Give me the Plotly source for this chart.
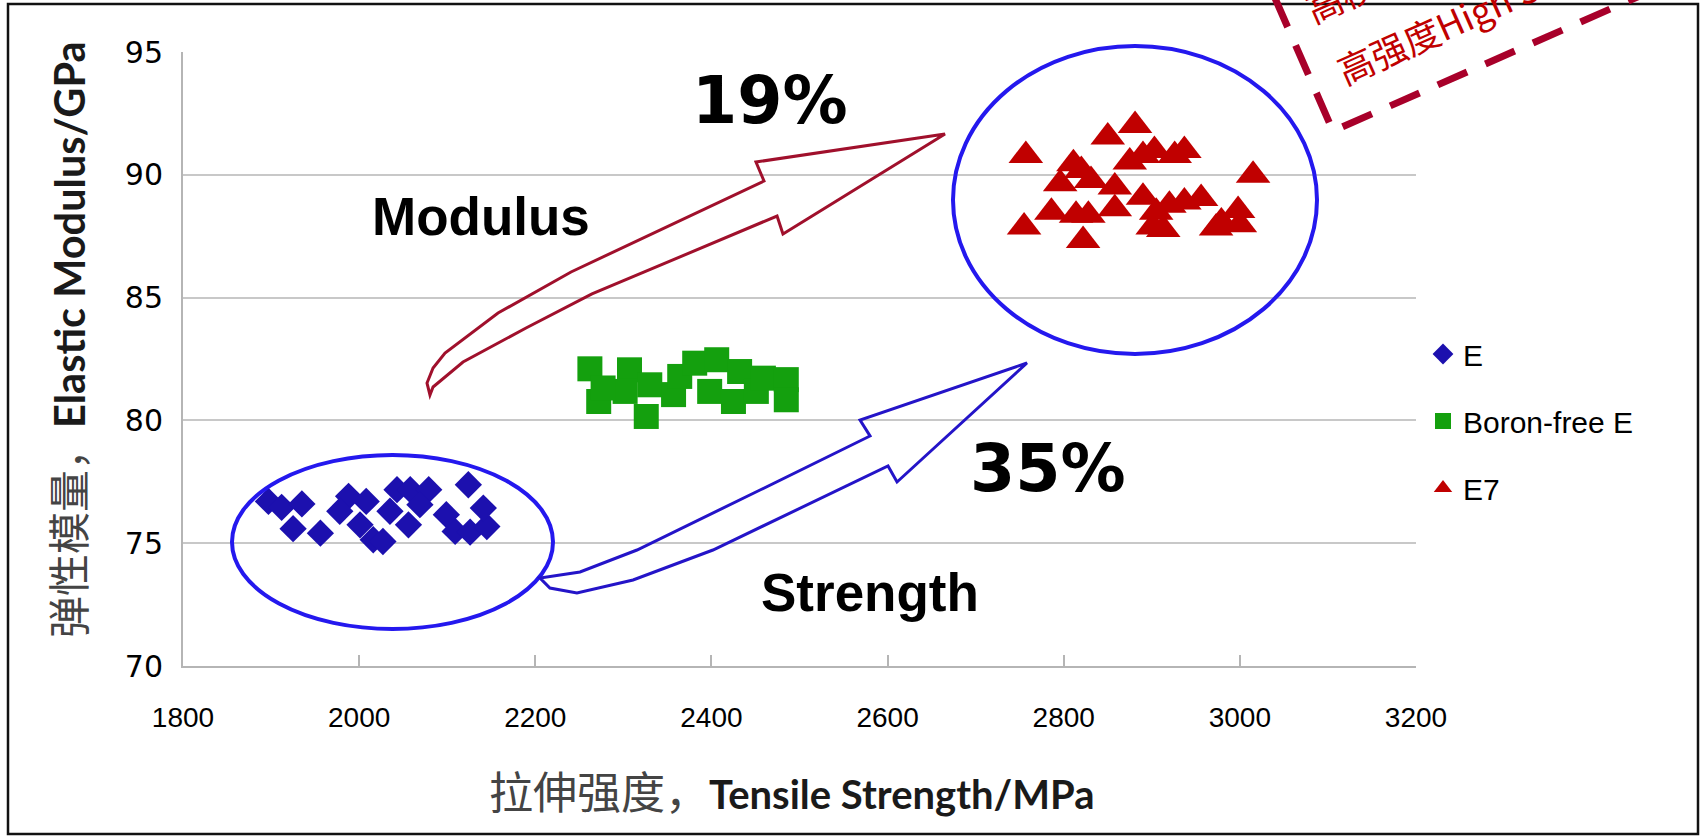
import plotly.graph_objects as go

# ---------------- data ----------------
x_ticks = [1800, 2000, 2200, 2400, 2600, 2800, 3000, 3200]
y_ticks = [70, 75, 80, 85, 90, 95]

series_names = ["E", "Boron-free E", "E7"]

e_x = [1897, 1912, 1935, 1925, 1956, 1988, 1978, 2016, 2027, 2043, 2058, 2079,
       2124, 2109, 2126, 2145, 2099, 2001, 2056, 2141, 2035, 2008, 2069]
e_y = [76.70, 76.46, 76.60, 75.59, 75.41, 76.91, 76.30, 75.14, 75.07, 77.18, 77.18, 77.18,
       77.38, 75.48, 75.45, 75.68, 76.16, 75.75, 75.75, 76.43, 76.30, 76.70, 76.57]

bfe_x = [2262, 2272, 2307, 2302, 2326, 2330, 2357, 2364, 2381, 2398, 2406, 2425,
         2432, 2451, 2459, 2485, 2485, 2277]
bfe_y = [82.10, 80.77, 82.06, 81.18, 80.16, 81.45, 81.05, 81.79, 82.33, 81.18, 82.47, 80.77,
         81.99, 81.18, 81.72, 81.66, 80.84, 81.32]

e7_x = [2757, 2755, 2850, 2881, 2903, 2890, 2926, 2937, 2875, 2811, 2820, 2831, 2796,
        2858, 2890, 2786, 2814, 2828, 2858, 2822, 2905, 2920, 2937, 2956, 2901, 2979,
        2998, 3000, 3015, 2973, 2913]
e7_y = [90.79, 87.87, 91.54, 92.01, 90.99, 90.79, 90.79, 90.99, 90.52, 90.45, 90.18, 89.77, 89.64,
        89.50, 89.09, 88.48, 88.35, 88.35, 88.62, 87.33, 88.48, 88.76, 88.89, 89.03, 87.87, 88.08,
        88.55, 87.97, 89.98, 87.83, 87.77]

x_title = ("拉伸强度，", "Tensile Strength/MPa")
y_title = ("弹性模量，", "Elastic Modulus/GPa")

# ---------------- layout geometry (pixels) ----------------
W, H = 1707, 836
ML, MR, MT, MB = 183, 291, 52, 170
PW = W - ML - MR
PH = H - MT - MB


def px(xp):
    return (xp - ML) / PW


def py(yp):
    return (H - MB - yp) / PH


def path_from(points, close=True):
    s = "M {:.4f},{:.4f}".format(px(points[0][0]), py(points[0][1]))
    for a, b in points[1:]:
        s += " L {:.4f},{:.4f}".format(px(a), py(b))
    return s + (" Z" if close else "")


fig = go.Figure()

fig.add_trace(go.Scatter(x=e_x, y=e_y, mode="markers", name=series_names[0], legendgroup="a",
                         marker=dict(symbol="diamond", size=21, color="#1c10ae", line=dict(width=0))))
fig.add_trace(go.Scatter(x=bfe_x, y=bfe_y, mode="markers", name=series_names[1], legendgroup="b",
                         marker=dict(symbol="square", size=25, color="#14a00e", line=dict(width=0))))
fig.add_trace(go.Scatter(x=e7_x, y=e7_y, mode="markers", name=series_names[2], legendgroup="c",
                         marker=dict(symbol="triangle-up", size=30, color="#c00000", line=dict(width=0))))

shapes = []
# outer frame
shapes.append(dict(type="rect", xref="paper", yref="paper", x0=px(8), x1=px(1698), y0=py(834), y1=py(4),
                   line=dict(color="#111111", width=2.5), fillcolor="rgba(0,0,0,0)", layer="above"))
# ellipses
shapes.append(dict(type="circle", xref="paper", yref="paper", x0=px(232), x1=px(553), y0=py(629), y1=py(455),
                   line=dict(color="#2418ee", width=4)))
shapes.append(dict(type="circle", xref="paper", yref="paper", x0=px(953), x1=px(1317), y0=py(354), y1=py(46),
                   line=dict(color="#2418ee", width=4)))
# red (modulus) arrow
red_arrow = [(945, 134), (756, 162), (764, 181), (571, 272), (498, 313), (445, 353), (433, 368),
             (427, 383), (430, 395), (433, 387), (463, 362), (526, 328), (592, 294), (777, 216),
             (783, 234)]
shapes.append(dict(type="path", xref="paper", yref="paper", path=path_from(red_arrow),
                   line=dict(color="#a0102c", width=3)))
# blue (strength) arrow
blue_arrow = [(1027, 363), (860, 420), (870, 436), (760, 490), (637, 550), (580, 572), (540, 578),
              (550, 588), (577, 593), (633, 580), (713, 550), (888, 466), (897, 482)]
shapes.append(dict(type="path", xref="paper", yref="paper", path=path_from(blue_arrow),
                   line=dict(color="#2414c8", width=3)))
# dashed rotated box (top right)
shapes.append(dict(type="path", xref="paper", yref="paper",
                   path=path_from([(1254, -50), (1333, 131), (1792, -71)], close=False),
                   line=dict(color="#a8002a", width=7, dash="32px,20px")))

CJK = "<span style='font-family:Noto Sans CJK SC;font-weight:normal;color:#444;font-size:{}px'>{}</span>"

C = dict(xref="paper", yref="paper", showarrow=False, xanchor="center", yanchor="middle")
annotations = [
    dict(text="19%", x=px(770), y=py(100),
         font=dict(family="DejaVu Sans", size=65, color="black", weight="bold"), **C),
    dict(text="35%", x=px(1048), y=py(468),
         font=dict(family="DejaVu Sans", size=65, color="black", weight="bold"), **C),
    dict(text="Modulus", x=px(481), y=py(216),
         font=dict(family="Liberation Sans", size=53, color="black", weight="bold"), **C),
    dict(text="Strength", x=px(870), y=py(592),
         font=dict(family="Liberation Sans", size=53, color="black", weight="bold"), **C),
    dict(text="高强度High Strength", x=px(1494), y=py(2), textangle=-24,
         font=dict(family="Noto Sans CJK SC", size=36, color="#c00000"), **C),
    dict(text="高模量High Modulus", x=px(1462), y=py(-59), textangle=-24,
         font=dict(family="Noto Sans CJK SC", size=36, color="#c00000"), **C),
    # y-axis title
    dict(text=CJK.format(42, y_title[0]) + "<b>" + y_title[1] + "</b>", x=px(66), y=py(340),
         textangle=-90, font=dict(family="Lato", size=41.5, color="#1a1a1a"), **C),
    # x-axis title
    dict(text=CJK.format(44, x_title[0]) + "<b>" + x_title[1] + "</b>", x=px(792), y=py(790),
         font=dict(family="Lato", size=40, color="#1a1a1a"), **C),
]

fig.update_layout(
    width=W, height=H,
    margin=dict(l=ML, r=MR, t=MT, b=MB, autoexpand=False),
    paper_bgcolor="white", plot_bgcolor="white",
    shapes=shapes, annotations=annotations,
    showlegend=True,
    legend=dict(x=px(1423), y=py(328), xanchor="left", yanchor="top", traceorder="grouped",
                tracegroupgap=25, bgcolor="rgba(0,0,0,0)",
                font=dict(family="Liberation Sans", size=30, color="black")),
    xaxis=dict(range=[1800, 3200], tickvals=x_ticks, ticktext=[str(v) for v in x_ticks],
               showgrid=False, zeroline=False, showline=True, linecolor="#b5b5b5", linewidth=2,
               ticks="inside", ticklen=11, tickwidth=1.5, tickcolor="#b5b5b5",
               ticklabelstandoff=25,
               tickfont=dict(family="Liberation Sans", size=28, color="black")),
    yaxis=dict(range=[70, 95], tickvals=y_ticks, ticktext=[str(v) for v in y_ticks],
               showgrid=True, gridcolor="#c8c8c8", gridwidth=2, zeroline=False,
               showline=True, linecolor="#b5b5b5", linewidth=2, ticks="",
               ticklabelstandoff=12,
               tickfont=dict(family="DejaVu Sans", size=30, color="black")),
)

fig.write_html("out.html", config={"displayModeBar": False},
               post_script="document.body.style.margin='0px';")
